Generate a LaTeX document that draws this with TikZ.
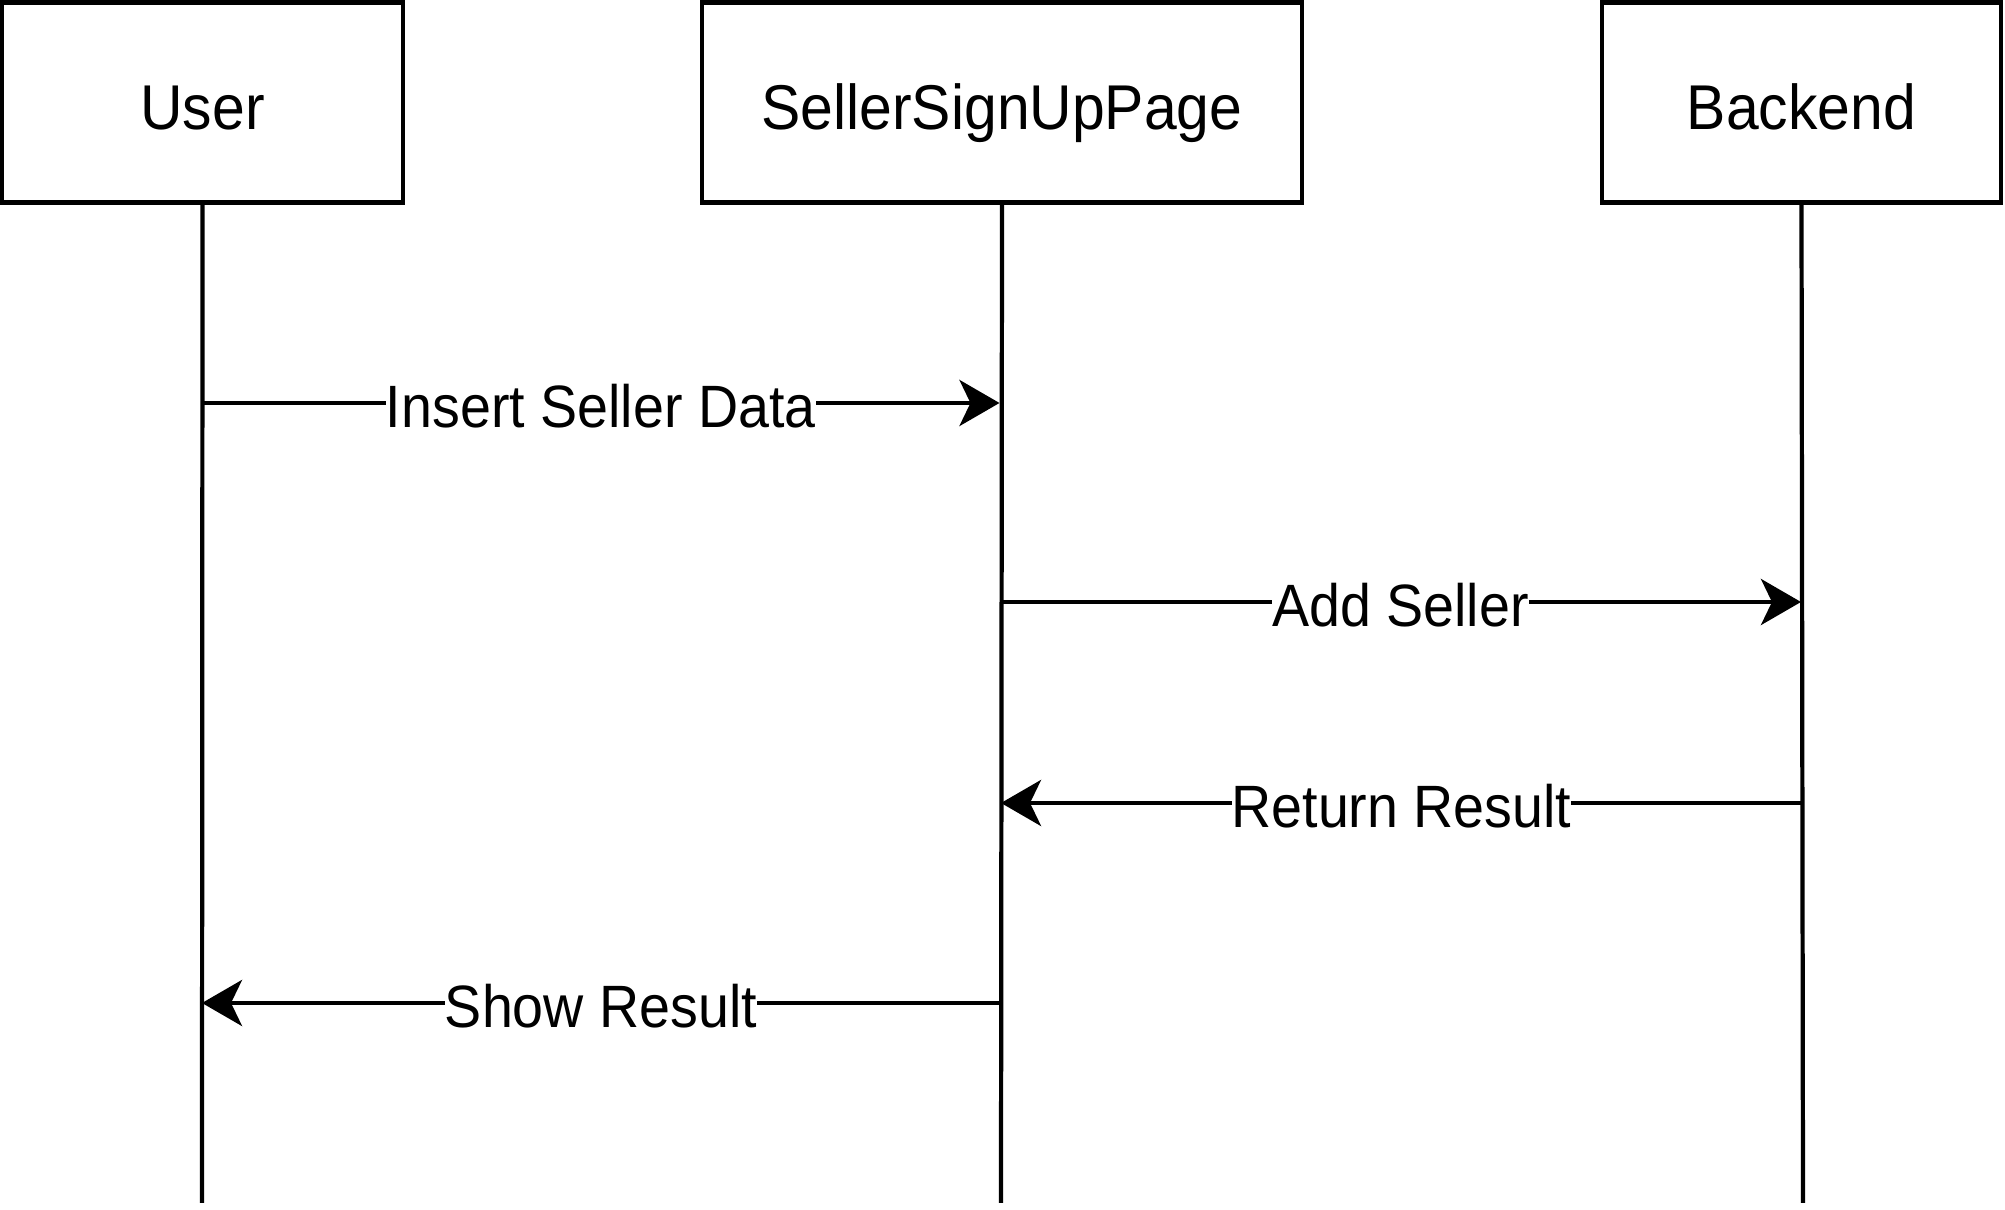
\documentclass[tikz,border=0pt]{standalone}
\usepackage{fontspec}
\setmainfont[FakeStretch=0.93]{Liberation Sans}
\usetikzlibrary{arrows.meta}
\begin{document}
\begin{tikzpicture}[x=0.01cm,y=-0.01cm,
  actor/.style={draw, line width=1.2pt, minimum height=2cm, inner sep=0pt, text height=17.3pt, text depth=2pt, font=\fontsize{18}{21}\selectfont},
  life/.style={line width=1.2pt},
  msg/.style={line width=1.2pt, -{Stealth[length=0.4cm,width=0.46cm,inset=0.11cm]}},
  lbl/.style={fill=white, inner sep=0pt, text height=16.5pt, text depth=2.5pt, font=\fontsize{17}{20}\selectfont}]
\useasboundingbox (0,0) rectangle (2005,1210);
\node[actor, minimum width=4.0cm] (user) at (202.5,102.5) {User};
\node[actor, minimum width=6.0cm] (page) at (1002,102.5) {SellerSignUpPage};
\node[actor, minimum width=3.99cm] (back) at (1801.5,102.5) {Backend};
\coordinate (uend) at (202,1203);
\coordinate (pend) at (1001,1203);
\coordinate (bend) at (1803,1203);
\draw[life] (user.south) -- (uend);
\draw[life] (page.south) -- (pend);
\draw[life] (back.south) -- (bend);
\coordinate (u1) at (202,403);
\coordinate (p1) at (999.5,403);
\coordinate (p2) at (1000,602);
\coordinate (b2) at (1801,602);
\coordinate (b3) at (1802,803);
\coordinate (p3) at (1001,803);
\coordinate (p4) at (1000,1003);
\coordinate (u4) at (202,1003);
\draw[msg] (u1) -- node[lbl] {Insert Seller Data} (p1);
\draw[msg] (p2) -- node[lbl] {Add Seller} (b2);
\draw[msg] (b3) -- node[lbl] {Return Result} (p3);
\draw[msg] (p4) -- node[lbl] {Show Result} (u4);
\end{tikzpicture}
\end{document}
